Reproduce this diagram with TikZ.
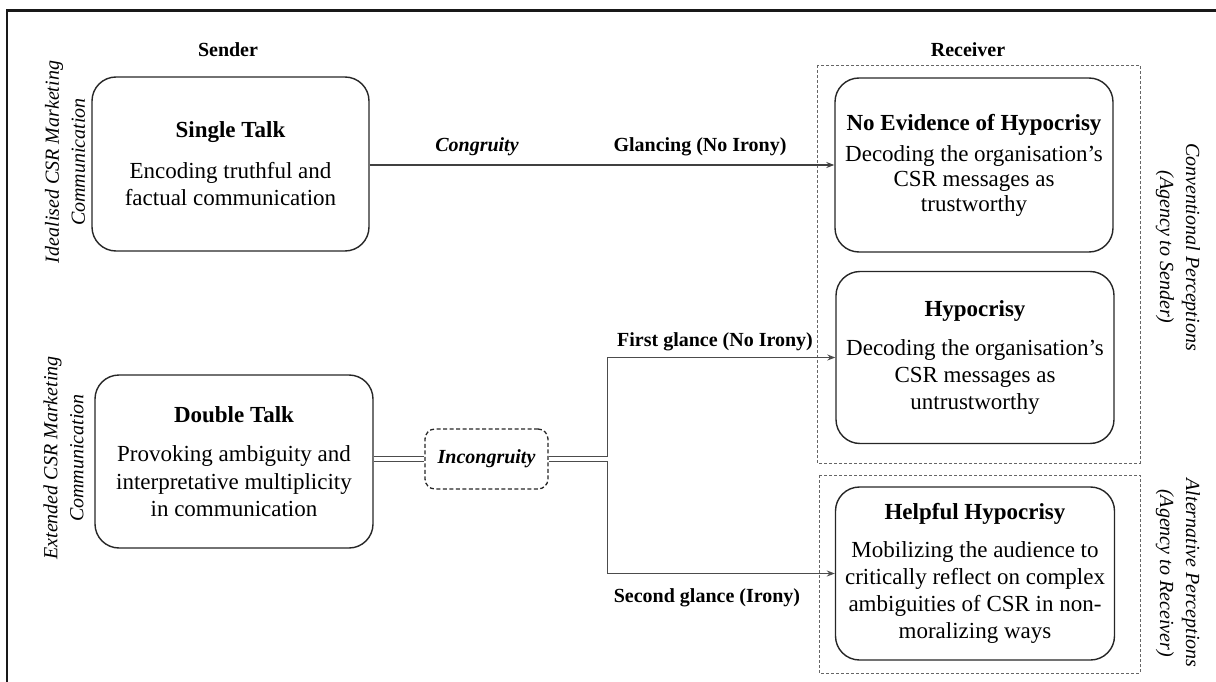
\documentclass[tikz,border=0pt]{standalone}
\usepackage{fontspec}
\setmainfont{Liberation Serif}
\usetikzlibrary{arrows.meta,calc}
\tikzset{
  mainbox/.style={draw=black!85, line width=1.4pt, rounded corners=24pt, align=center, inner sep=0pt},
  leftbox/.style={mainbox, font=\fontsize{23}{27.5}\selectfont},
  rightbox/.style={mainbox, font=\fontsize{23}{25}\selectfont},
  widebox/.style={mainbox, font=\fontsize{23}{27}\selectfont},
  headlabel/.style={font=\bfseries\fontsize{20}{24}\selectfont, inner sep=0pt},
  sidelabel/.style={font=\itshape\fontsize{20}{26}\selectfont, align=center, inner sep=0pt},
  conn/.style={draw=black!75, line width=1.2pt, -{Stealth[length=8pt,width=6pt]}},
  dbl/.style={draw=black!70, line width=1.2pt, double=white, double distance=3.6pt},
  branch/.style={draw=black!70, line width=1.2pt, -{Stealth[length=8pt,width=6pt]}},
  groupbox/.style={draw=black!60, line width=0.9pt, dash pattern=on 3pt off 2pt},
  incbox/.style={draw=black!85, line width=1.3pt, dash pattern=on 4pt off 2.5pt, rounded corners=10pt, font=\bfseries\itshape\fontsize{20}{24}\selectfont, minimum width=123pt, minimum height=60pt, inner sep=0pt}
}
\begin{document}
\begin{tikzpicture}[x=1pt,y=-1pt]
\useasboundingbox (0,0) rectangle (1216,682);
% outer frame (left and top visible)
\draw[line width=2.2pt, black!90] (7,720) -- (7,10.5) -- (1250,10.5);

% group boxes
\draw[groupbox] (817,65) rectangle (1140,463);
\draw[groupbox] (819,475) rectangle (1140,673);

% headings
\node[headlabel] (sender) at (228,50) {Sender};
\node[headlabel] (receiver) at (968,50) {Receiver};

% side labels
\node[sidelabel, rotate=90] (ideal) at (65,162) {Idealised CSR Marketing\\Communication};
\node[sidelabel, rotate=90] (ext) at (63.5,458) {Extended CSR Marketing\\Communication};
\node[sidelabel, rotate=-90] (conv) at (1178,247) {Conventional Perceptions\\(Agency to Sender)};
\node[sidelabel, rotate=-90] (alt) at (1178,573) {Alternative Perceptions\\(Agency to Receiver)};

% main boxes
\node[leftbox, minimum width=277pt, minimum height=174pt] (st) at (230.5,164)
  {\textbf{Single Talk}\\[13pt]Encoding truthful and\\factual communication};
\node[leftbox, minimum width=278pt, minimum height=173pt] (dt) at (234,461.5)
  {\textbf{Double Talk}\\[12pt]Provoking ambiguity and\\interpretative multiplicity\\in communication};
\node[rightbox, minimum width=278pt, minimum height=174pt] (ne) at (974,165)
  {\textbf{No Evidence of Hypocrisy}\\[6pt]Decoding the organisation’s\\CSR messages as\\trustworthy};
\node[widebox, minimum width=278pt, minimum height=172pt] (hy) at (975,357.5)
  {\textbf{Hypocrisy}\\[12pt]Decoding the organisation's\\CSR messages as\\untrustworthy};
\node[widebox, minimum width=279pt, minimum height=173pt] (hh) at (975,573.5)
  {\textbf{Helpful Hypocrisy}\\[11pt]Mobilizing the audience to\\critically reflect on complex\\ambiguities of CSR in non-\\moralizing ways};
\node[incbox] (inc) at (486.5,459) {Incongruity};

% connector labels
\node[headlabel, font=\bfseries\itshape\fontsize{20}{24}\selectfont] (cong) at (477,147) {Congruity};
\node[headlabel] (glance) at (700,147) {Glancing (No Irony)};
\node[headlabel] (first) at (715,342) {First glance (No Irony)};
\node[headlabel] (second) at (707,598) {Second glance (Irony)};

% connectors
\draw[conn] (st.east |- ne.west) -- (ne.west);
\draw[dbl] (inc.west -| dt.east) -- (inc.west);
\draw[branch] ([yshift=2.7pt]inc.east) -- ++(59,0) |- (hy.west);
\draw[branch] ([yshift=-2.7pt]inc.east) -- ++(59,0) |- (hh.west);
\end{tikzpicture}
\end{document}
